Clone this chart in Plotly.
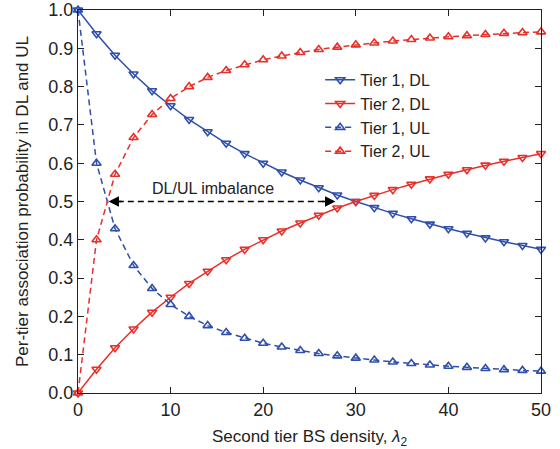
import plotly.graph_objects as go

lam = [0, 2, 4, 6, 8, 10, 12, 14, 16, 18, 20, 22, 24, 26, 28, 30, 32, 34, 36, 38, 40, 42, 44, 46, 48, 50]

tier1_dl = [1.000, 0.938, 0.882, 0.833, 0.789, 0.750, 0.714, 0.682, 0.652, 0.625, 0.600, 0.577, 0.556,
            0.536, 0.517, 0.500, 0.484, 0.469, 0.455, 0.441, 0.429, 0.417, 0.405, 0.395, 0.385, 0.375]
tier2_dl = [0.000, 0.062, 0.118, 0.167, 0.211, 0.250, 0.286, 0.318, 0.348, 0.375, 0.400, 0.423, 0.444,
            0.464, 0.483, 0.500, 0.516, 0.531, 0.545, 0.559, 0.571, 0.583, 0.595, 0.605, 0.615, 0.625]
tier1_ul = [1.000, 0.600, 0.429, 0.333, 0.273, 0.231, 0.200, 0.176, 0.158, 0.143, 0.130, 0.120, 0.111,
            0.103, 0.097, 0.091, 0.086, 0.081, 0.077, 0.073, 0.070, 0.067, 0.064, 0.061, 0.059, 0.057]
tier2_ul = [0.000, 0.400, 0.571, 0.667, 0.727, 0.769, 0.800, 0.824, 0.842, 0.857, 0.870, 0.880, 0.889,
            0.897, 0.903, 0.909, 0.914, 0.919, 0.923, 0.927, 0.930, 0.933, 0.936, 0.939, 0.941, 0.943]

x_ticks = [0, 10, 20, 30, 40, 50]
y_ticks = [0.0, 0.1, 0.2, 0.3, 0.4, 0.5, 0.6, 0.7, 0.8, 0.9, 1.0]

arrow_left = 3.3
arrow_right = 27.8
arrow_y = 0.5

BLUE = "#2f4fab"
RED = "#e8302a"
INK = "#222222"
FONT = "Liberation Sans, Arial, sans-serif"

fig = go.Figure()

def add(name, y, color, symbol, dash):
    fig.add_trace(go.Scatter(
        x=lam, y=y, name=name, mode="lines+markers",
        line=dict(color=color, width=1.5, dash=dash),
        marker=dict(symbol=symbol, size=8, color=color, line=dict(color=color, width=1.6)),
        cliponaxis=False,
    ))

add("Tier 1, DL", tier1_dl, BLUE, "triangle-down-open", "solid")
add("Tier 2, DL", tier2_dl, RED, "triangle-down-open", "solid")
add("Tier 1, UL", tier1_ul, BLUE, "triangle-up-open", "6px,4px")
add("Tier 2, UL", tier2_ul, RED, "triangle-up-open", "6px,4px")

# dashed double-headed arrow
fig.add_trace(go.Scatter(
    x=[arrow_left + 1.0, arrow_right - 1.0], y=[arrow_y, arrow_y], mode="lines",
    line=dict(color="black", width=1.4, dash="6px,4px"), showlegend=False, hoverinfo="skip",
))
fig.add_annotation(x=arrow_left, y=arrow_y, ax=arrow_left + 1.6, ay=arrow_y, axref="x", ayref="y",
                   text="", showarrow=True, arrowhead=2, arrowsize=1.6, arrowwidth=1.3,
                   arrowcolor="black")
fig.add_annotation(x=arrow_right, y=arrow_y, ax=arrow_right - 1.6, ay=arrow_y, axref="x", ayref="y",
                   text="", showarrow=True, arrowhead=2, arrowsize=1.6, arrowwidth=1.3,
                   arrowcolor="black")
fig.add_annotation(x=14.6, y=0.535, text="DL/UL imbalance", showarrow=False,
                   font=dict(size=16, color=INK, family=FONT))

axis_common = dict(
    showgrid=False, zeroline=False, showline=True, linecolor=INK, linewidth=1.3,
    mirror="ticks", ticks="inside", ticklen=6, tickcolor=INK, automargin=False,
    tickfont=dict(size=18, color=INK, family=FONT),
)

fig.update_layout(
    width=560, height=449,
    margin=dict(l=78, r=19, t=10, b=56),
    paper_bgcolor="white", plot_bgcolor="white",
    font=dict(family=FONT, color=INK),
    xaxis=dict(range=[0, 50], tickvals=x_ticks,
               title=dict(text="Second tier BS density, <i>λ</i><sub>2</sub>", font=dict(size=17)),
               **axis_common),
    yaxis=dict(range=[0, 1], tickvals=y_ticks, tickformat=".1f",
               title=dict(text="Per-tier association probability in DL and UL", font=dict(size=17)),
               **axis_common),
    legend=dict(x=0.523, y=0.862, xanchor="left", yanchor="top", bgcolor="rgba(255,255,255,0)",
                font=dict(size=16, family=FONT, color=INK), tracegroupgap=0),
)

# remove the default 8px page margin so the 560x449 figure fills the window exactly
fig.write_html("out.html", config={"displayModeBar": False},
               post_script="document.body.style.margin='0';")
